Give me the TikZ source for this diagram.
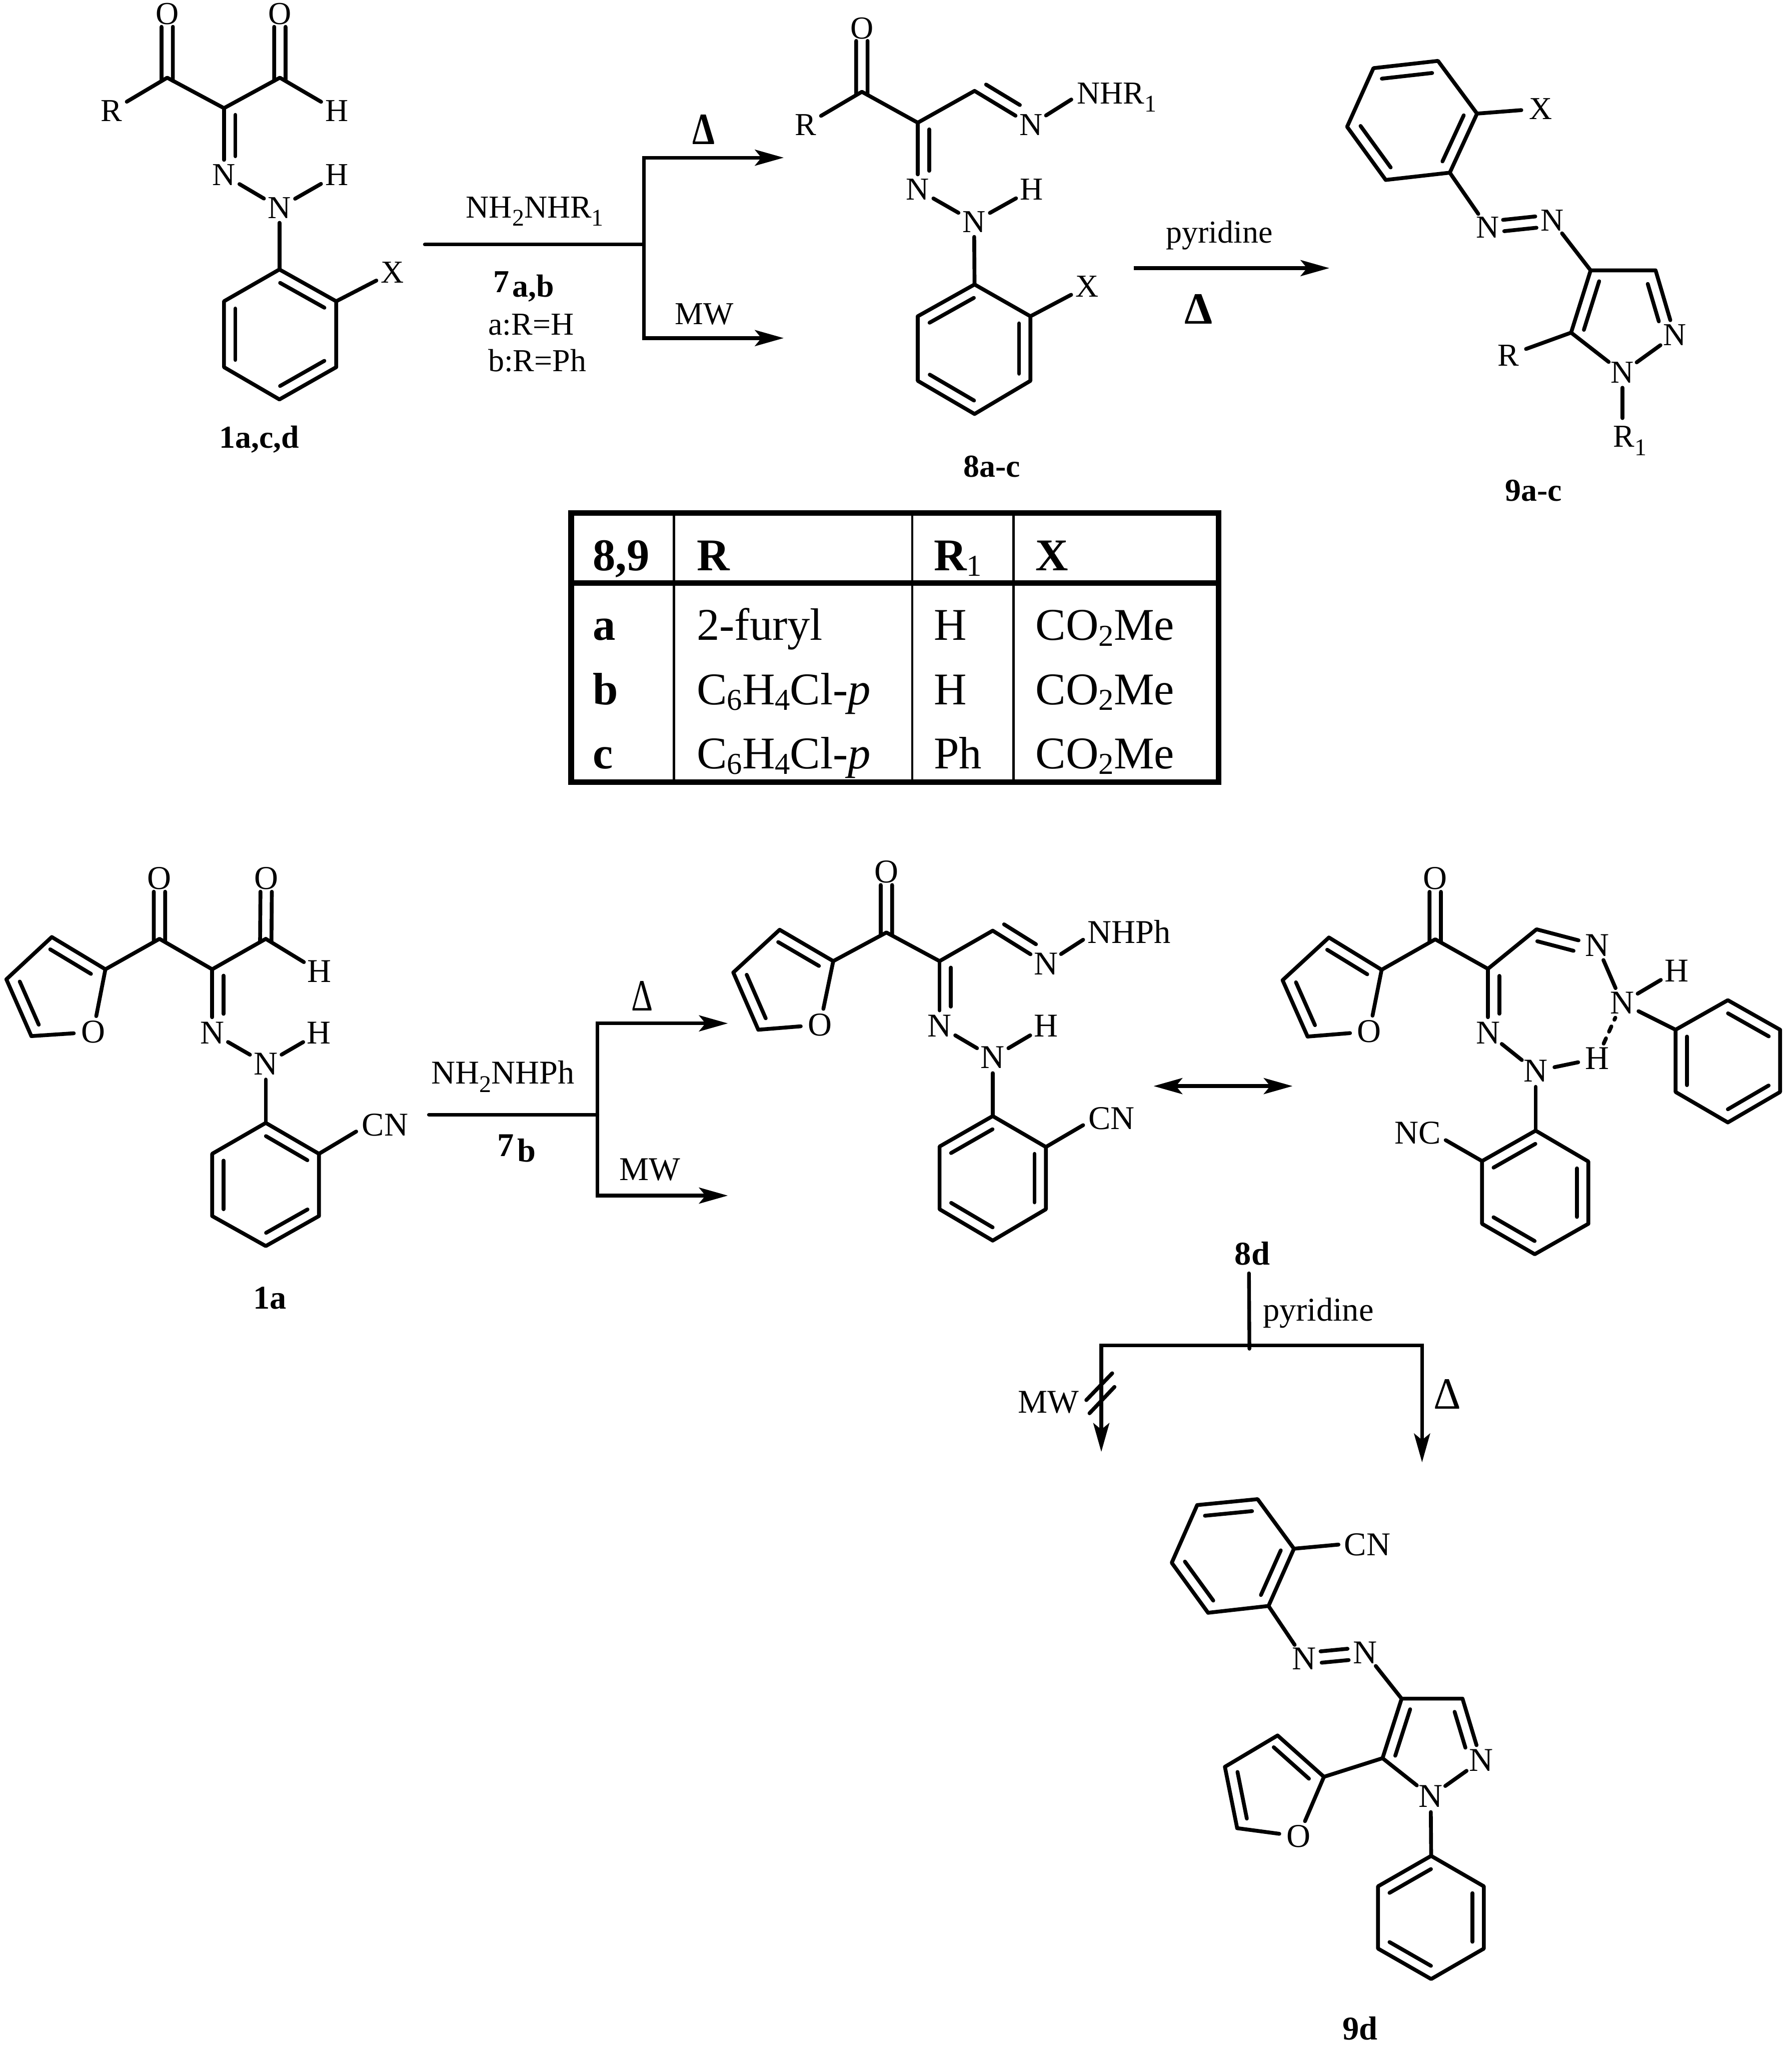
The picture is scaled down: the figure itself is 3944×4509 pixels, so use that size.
\documentclass[tikz,border=0pt]{standalone}
\usepackage{fontspec}
\setmainfont{Liberation Serif}
\usetikzlibrary{calc,arrows.meta,shapes.geometric}
% font in force for atoms and scheme texts
\def\curfont{\fontsize{20}{24}\selectfont}
\newcommand{\tabfont}{\fontsize{28.4}{32}\selectfont}
\newcommand{\sbs}[1]{\raisebox{-.26em}{\fontsize{15}{15}\selectfont #1}}
\newcommand{\tsb}[1]{\raisebox{-.13em}{\fontsize{19}{19}\selectfont #1}}
\tikzset{
  bond/.style={draw,line width=2.4pt,line cap=round,line join=round},
  arw/.style={draw,line width=2.3pt,line join=miter,-{Stealth[length=18pt,width=10pt,inset=4pt]}},
  arwb/.style={draw,line width=2.3pt,{Stealth[length=18pt,width=10pt,inset=4pt]}-{Stealth[length=18pt,width=10pt,inset=4pt]}},
  stem/.style={draw,line width=2.3pt,line cap=round,line join=miter},
  atm/.style={shape=ellipse,inner sep=0pt,minimum width=.84cm,minimum height=.64cm,font=\curfont},
  txt/.style={inner sep=0pt,anchor=base west,font=\curfont},
  capt/.style={inner sep=0pt,anchor=base west,font=\curfont\bfseries},
  tabr/.style={inner sep=0pt,anchor=base west,font=\tabfont},
  tabb/.style={inner sep=0pt,anchor=base west,font=\tabfont\bfseries},
  delt/.style={inner sep=0pt,font=\fontsize{28}{30}\selectfont},
  deltb/.style={inner sep=0pt,font=\fontsize{28}{30}\selectfont\bfseries},
}
\newcommand{\bd}[2]{\draw[bond] (#1) -- (#2);}
% inner line of a double bond, to the right of the way a->b
\newcommand{\innf}[4]{\draw[bond] ($(#1)!#3!(#2)!.25cm!-90:(#2)$) -- ($(#1)!#4!(#2)!.25cm!-90:(#2)$);}
\newcommand{\inn}[2]{\innf{#1}{#2}{.11}{.89}}
% two equal lines either side of the axis a-b
\newcommand{\dblf}[4]{\draw[bond] ($(#1)!#3!(#2)!.125cm!90:(#2)$) -- ($(#1)!#4!(#2)!.125cm!90:(#2)$);
  \draw[bond] ($(#1)!#3!(#2)!.125cm!-90:(#2)$) -- ($(#1)!#4!(#2)!.125cm!-90:(#2)$);}
% six-membered ring, corners named clockwise
\newcommand{\ringsix}[6]{\draw[bond] (#1)--(#2)--(#3)--(#4)--(#5)--(#6)--cycle;}
\newcommand{\furan}[5]{\draw[bond] (#1)--(#2)--(#3)--(#4); \bd{#4}{#5} \bd{#1}{#5}
  \innf{#2}{#1}{.08}{.84} \innf{#4}{#3}{.12}{.88}}
\begin{document}
\begin{tikzpicture}[x=.01cm,y=-.01cm]
\fill[white] (0,0) rectangle (3944,4509);
\path[use as bounding box] (0,0) rectangle (3944,4509);

%% ---------- 1a,c,d ----------
\coordinate (Ac1) at (368,171); \coordinate (Ac2) at (616,171); \coordinate (Ac3) at (493,238);
\node[atm] (Ao1) at (368,31) {O}; \node[atm] (Ao2) at (616,31) {O};
\node[atm] (Ar) at (245,244) {R}; \node[atm] (Ah1) at (741,244) {H};
\node[atm] (An1) at (493,385) {N}; \node[atm] (Ah2) at (741,385) {H};
\node[atm] (An2) at (615,457) {N}; \node[atm] (Ax) at (864,599) {X};
\coordinate (Ara) at (615,593); \coordinate (Arb) at (740,663); \coordinate (Arc) at (740,808);
\coordinate (Ard) at (615,879); \coordinate (Are) at (493,808); \coordinate (Arf) at (493,663);
\draw[bond] (Ar) -- (Ac1) -- (Ac3) -- (Ac2) -- (Ah1);
\dblf{Ac1}{Ao1}{-.05}{.8} \dblf{Ac2}{Ao2}{-.05}{.8}
\bd{Ac3}{An1} \innf{An1}{Ac3}{.28}{.9}
\bd{An1}{An2} \bd{An2}{Ah2} \bd{An2}{Ara}
\ringsix{Ara}{Arb}{Arc}{Ard}{Are}{Arf} \inn{Ara}{Arb} \inn{Arc}{Ard} \inn{Are}{Arf}
\bd{Arb}{Ax}
\node[capt] (Acap) at (482,986) {1a,c,d};

%% ---------- reagent and branch, top ----------
\node[txt] (Rg1) at (1025,479) {NH\sbs{2}NHR\sbs{1}};
\node[capt] (Rg2) at (1085,643) {7};
\node[capt] (Rg3) at (1127,653) {a,b};
\node[txt] (Rg4) at (1074,737) {a:R=H};
\node[txt] (Rg5) at (1074,817) {b:R=Ph};
\coordinate (La) at (935,538); \coordinate (Lm) at (1417,538);
\coordinate (Lt) at (1417,347); \coordinate (Lb) at (1417,744);
\coordinate (Ta) at (1725,347); \coordinate (Tb) at (1725,744);
\draw[stem] (La) -- (Lm);
\draw[arw] (Lm) -- (Lt) -- (Ta);
\draw[arw] (Lm) -- (Lb) -- (Tb);
\node[deltb] (De1) at (1549,285) {\scalebox{.8}[1]{Δ}};
\node[txt] (Mw1) at (1485,714) {MW};

%% ---------- 8a-c ----------
\coordinate (Bc1) at (1897,202); \coordinate (Bc2) at (2020,270); \coordinate (Bc3) at (2145,200);
\node[atm] (Bo) at (1897,62) {O}; \node[atm] (Br) at (1773,275) {R};
\node[atm] (Bn3) at (2269,275) {N}; \node[atm] (Bn1) at (2020,417) {N};
\node[atm] (Bh) at (2271,417) {H}; \node[atm] (Bn2) at (2144,488) {N};
\node[atm] (Bx) at (2393,630) {X};
\coordinate (Bra) at (2145,626); \coordinate (Brb) at (2268,696); \coordinate (Brc) at (2268,838);
\coordinate (Brd) at (2145,911); \coordinate (Bre) at (2020,838); \coordinate (Brf) at (2020,696);
\draw[bond] (Br) -- (Bc1) -- (Bc2) -- (Bc3) -- (Bn3);
\dblf{Bc1}{Bo}{-.05}{.8}
\innf{Bn3}{Bc3}{.3}{.9}
\node[txt] (Bnh) at (2370,228) {NHR\sbs{1}};
\coordinate (Bne) at (2358,219); \bd{Bn3}{Bne}
\bd{Bc2}{Bn1} \innf{Bn1}{Bc2}{.28}{.9}
\bd{Bn1}{Bn2} \bd{Bn2}{Bh} \bd{Bn2}{Bra}
\ringsix{Bra}{Brb}{Brc}{Brd}{Bre}{Brf} \inn{Brf}{Bra} \inn{Brb}{Brc} \inn{Brd}{Bre}
\bd{Brb}{Bx}
\node[capt] (Bcap) at (2120,1050) {8a-c};

%% ---------- pyridine arrow ----------
\coordinate (Pa) at (2495,590); \coordinate (Pb) at (2926,590);
\draw[arw] (Pa) -- (Pb);
\node[txt] (Py1) at (2566,535) {pyridine};
\node[deltb] (De2) at (2638,680) {Δ};

%% ---------- 9a-c ----------
\coordinate (Cra) at (3023,150); \coordinate (Crb) at (3165,134); \coordinate (Crc) at (3251,250);
\coordinate (Crd) at (3191,380); \coordinate (Cre) at (3050,396); \coordinate (Crf) at (2965,279);
\ringsix{Cra}{Crb}{Crc}{Crd}{Cre}{Crf} \inn{Cra}{Crb} \inn{Crc}{Crd} \inn{Cre}{Crf}
\node[atm] (Cx) at (3391,239) {X}; \bd{Crc}{Cx}
\node[atm] (Cn1) at (3274,500) {N}; \node[atm] (Cn2) at (3416,485) {N};
\bd{Crd}{Cn1} \dblf{Cn1}{Cn2}{.25}{.75}
\coordinate (Cc4) at (3501,595); \coordinate (Cc3) at (3644,595); \coordinate (Cc5) at (3458,732);
\node[atm] (Cn4) at (3686,737) {N}; \node[atm] (Cn5) at (3571,820) {N};
\node[atm] (Cr) at (3320,782) {R};
\bd{Cn2}{Cc4}
\draw[bond] (Cn4) -- (Cc3) -- (Cc4) -- (Cc5) -- (Cn5) -- (Cn4);
\innf{Cc3}{Cn4}{.16}{.74} \innf{Cc5}{Cc4}{.1}{.88}
\bd{Cc5}{Cr}
\coordinate (Cre1) at (3571,920); \bd{Cn5}{Cre1}
\node[txt] (Cr1) at (3550,984) {R\sbs{1}};
\node[capt] (Ccap) at (3312,1102) {9a-c};

%% ---------- table ----------
\draw[line width=3.6pt,line join=miter] (1257,1129) rectangle (2682,1721);
\draw[line width=3.5pt] (1257,1283) -- (2682,1283);
\draw[line width=1.5pt] (1483,1129) -- (1483,1721);
\draw[line width=1.5pt] (2008,1129) -- (2008,1721);
\draw[line width=1.5pt] (2231,1129) -- (2231,1721);
\node[tabb] (T00) at (1304,1255) {8,9};
\node[tabb] (T01) at (1533,1255) {R};
\node[tabb] (T02) at (2055,1255) {R\tsb{\mdseries 1}};
\node[tabb] (T03) at (2279,1255) {X};
\node[tabb] (T10) at (1304,1409) {a};
\node[tabr] (T11) at (1533,1409) {2-furyl};
\node[tabr] (T12) at (2055,1409) {H};
\node[tabr] (T13) at (2279,1409) {CO\tsb{2}Me};
\node[tabb] (T20) at (1304,1550) {b};
\node[tabr] (T21) at (1533,1550) {C\tsb{6}H\tsb{4}Cl-\textit{p}};
\node[tabr] (T22) at (2055,1550) {H};
\node[tabr] (T23) at (2279,1550) {CO\tsb{2}Me};
\node[tabb] (T30) at (1304,1691) {c};
\node[tabr] (T31) at (1533,1691) {C\tsb{6}H\tsb{4}Cl-\textit{p}};
\node[tabr] (T32) at (2055,1691) {Ph};
\node[tabr] (T33) at (2279,1691) {CO\tsb{2}Me};

\def\curfont{\fontsize{20.8}{24}\selectfont}
%% ---------- 1a ----------
\coordinate (Dc2f) at (232,2133); \coordinate (Dc3f) at (114,2062);
\coordinate (Dc4f) at (14,2155); \coordinate (Dc5f) at (69,2280);
\node[atm] (Dof) at (205,2271) {O};
\furan{Dc2f}{Dc3f}{Dc4f}{Dc5f}{Dof}
\coordinate (Dc1) at (351,2066); \coordinate (Dc2) at (467,2133); \coordinate (Dc3) at (585,2066);
\node[atm] (Do1) at (351,1933) {O}; \node[atm] (Do2) at (586,1933) {O};
\node[atm] (Dh1) at (703,2138) {H}; \node[atm] (Dn1) at (467,2273) {N};
\node[atm] (Dh2) at (702,2273) {H}; \node[atm] (Dn2) at (585,2341) {N};
\coordinate (Dra) at (585,2471); \coordinate (Drb) at (702,2539); \coordinate (Drc) at (702,2676);
\coordinate (Drd) at (585,2742); \coordinate (Dre) at (467,2676); \coordinate (Drf) at (467,2539);
\draw[bond] (Dc2f) -- (Dc1) -- (Dc2) -- (Dc3) -- (Dh1);
\dblf{Dc1}{Do1}{-.05}{.78} \dblf{Dc3}{Do2}{-.05}{.78}
\bd{Dc2}{Dn1} \innf{Dn1}{Dc2}{.3}{.9}
\bd{Dn1}{Dn2} \bd{Dn2}{Dh2} \bd{Dn2}{Dra}
\ringsix{Dra}{Drb}{Drc}{Drd}{Dre}{Drf} \inn{Dra}{Drb} \inn{Drc}{Drd} \inn{Dre}{Drf}
\node[txt] (Dcn) at (796,2499) {CN}; \coordinate (Dce) at (784,2490); \bd{Drb}{Dce}
\node[capt] (Dcap) at (557,2880) {1a};

%% ---------- reagent and branch, bottom ----------
\node[txt] (Rh1) at (949,2385) {NH\sbs{2}NHPh};
\node[capt] (Rh2) at (1094,2544) {7};
\node[capt] (Rh3) at (1138,2557) {b};
\coordinate (Ma) at (944,2453); \coordinate (Mm) at (1315,2453);
\coordinate (Mt) at (1315,2252); \coordinate (Mb) at (1315,2631);
\coordinate (Na) at (1602,2252); \coordinate (Nb) at (1602,2631);
\draw[stem] (Ma) -- (Mm);
\draw[arw] (Mm) -- (Mt) -- (Na);
\draw[arw] (Mm) -- (Mb) -- (Nb);
\node[delt] (De3) at (1413,2192) {\scalebox{.75}[1]{Δ}};
\node[txt] (Mw2) at (1363,2597) {MW};

%% ---------- 8d, open form ----------
\coordinate (Ec2f) at (1834,2115); \coordinate (Ec3f) at (1716,2046);
\coordinate (Ec4f) at (1614,2140); \coordinate (Ec5f) at (1669,2266);
\node[atm] (Eof) at (1805,2255) {O};
\furan{Ec2f}{Ec3f}{Ec4f}{Ec5f}{Eof}
\coordinate (Ec1) at (1951,2052); \coordinate (Ec2) at (2068,2115); \coordinate (Ec3) at (2185,2048);
\node[atm] (Eo) at (1951,1918) {O}; \node[atm] (En3) at (2302,2121) {N};
\node[atm] (En1) at (2068,2258) {N}; \node[atm] (Eh) at (2302,2258) {H};
\node[atm] (En2) at (2185,2327) {N};
\coordinate (Era) at (2185,2456); \coordinate (Erb) at (2302,2524); \coordinate (Erc) at (2302,2661);
\coordinate (Erd) at (2185,2730); \coordinate (Ere) at (2068,2661); \coordinate (Erf) at (2068,2523);
\draw[bond] (Ec2f) -- (Ec1) -- (Ec2) -- (Ec3) -- (En3);
\dblf{Ec1}{Eo}{-.05}{.78}
\innf{En3}{Ec3}{.3}{.9}
\node[txt] (Enh) at (2393,2076) {NHPh}; \coordinate (Ene) at (2384,2068); \bd{En3}{Ene}
\bd{Ec2}{En1} \innf{En1}{Ec2}{.3}{.9}
\bd{En1}{En2} \bd{En2}{Eh} \bd{En2}{Era}
\ringsix{Era}{Erb}{Erc}{Erd}{Ere}{Erf} \inn{Erf}{Era} \inn{Erb}{Erc} \inn{Erd}{Ere}
\node[txt] (Ecn) at (2395,2485) {CN}; \coordinate (Ece) at (2384,2476); \bd{Erb}{Ece}

%% ---------- double arrow ----------
\coordinate (Qa) at (2539,2390); \coordinate (Qb) at (2845,2390);
\draw[arwb] (Qa) -- (Qb);

%% ---------- 8d, chelated form ----------
\coordinate (Fc2f) at (3041,2134); \coordinate (Fc3f) at (2925,2063);
\coordinate (Fc4f) at (2823,2157); \coordinate (Fc5f) at (2878,2281);
\node[atm] (Fof) at (3014,2270) {O};
\furan{Fc2f}{Fc3f}{Fc4f}{Fc5f}{Fof}
\coordinate (Fc1) at (3159,2067); \coordinate (Fc2) at (3275,2132); \coordinate (Fc3) at (3382,2045);
\node[atm] (Fo) at (3159,1933) {O}; \node[atm] (Fn3) at (3515,2080) {N};
\node[atm] (Fn4) at (3570,2207) {N}; \node[atm] (Fh1) at (3690,2136) {H};
\node[atm] (Fn1) at (3275,2273) {N}; \node[atm] (Fn2) at (3380,2357) {N};
\node[atm] (Fh2) at (3515,2329) {H};
\draw[bond] (Fc2f) -- (Fc1) -- (Fc2) -- (Fc3) -- (Fn3);
\dblf{Fc1}{Fo}{-.05}{.78}
\innf{Fc3}{Fn3}{.06}{.66}
\bd{Fn3}{Fn4} \bd{Fn4}{Fh1}
\bd{Fc2}{Fn1} \innf{Fn1}{Fc2}{.3}{.89}
\bd{Fn1}{Fn2} \bd{Fn2}{Fh2}
\draw[bond,dash pattern=on 3.6pt off 4.6pt] (Fh2) -- (Fn4);
\coordinate (Fpa) at (3688,2266); \coordinate (Fpb) at (3803,2201); \coordinate (Fpc) at (3918,2266);
\coordinate (Fpd) at (3918,2403); \coordinate (Fpe) at (3803,2470); \coordinate (Fpf) at (3688,2403);
\bd{Fn4}{Fpa}
\ringsix{Fpa}{Fpb}{Fpc}{Fpd}{Fpe}{Fpf} \inn{Fpb}{Fpc} \inn{Fpd}{Fpe} \inn{Fpf}{Fpa}
\coordinate (Fra) at (3380,2488); \coordinate (Frb) at (3496,2556); \coordinate (Frc) at (3496,2693);
\coordinate (Frd) at (3378,2760); \coordinate (Fre) at (3262,2693); \coordinate (Frf) at (3262,2555);
\bd{Fn2}{Fra}
\ringsix{Fra}{Frb}{Frc}{Frd}{Fre}{Frf} \inn{Frf}{Fra} \inn{Frb}{Frc} \inn{Frd}{Fre}
\node[txt] (Fnc) at (3069,2517) {NC}; \coordinate (Fce) at (3182,2509); \bd{Frf}{Fce}

%% ---------- 8d caption and its branch ----------
\node[capt] (Fcap) at (2717,2783) {8d};
\node[txt] (Py2) at (2779,2907) {pyridine};
\coordinate (Sa) at (2749,2802); \coordinate (Sb) at (2750,2968); \coordinate (Sm) at (2750,2961);
\coordinate (Sl) at (2424,2961); \coordinate (Sr) at (3130,2961);
\coordinate (Ul) at (2424,3195); \coordinate (Ur) at (3130,3218);
\draw[stem] (Sa) -- (Sb);
\draw[arw] (Sm) -- (Sl) -- (Ul);
\draw[arw] (Sm) -- (Sr) -- (Ur);
\coordinate (Xa1) at (2448,3022); \coordinate (Xa2) at (2391,3081);
\coordinate (Xb1) at (2453,3052); \coordinate (Xb2) at (2398,3110);
\bd{Xa1}{Xa2} \bd{Xb1}{Xb2}
\node[txt] (Mw3) at (2240,3109) {MW};
\node[delt] (De4) at (3186,3068) {\scalebox{.95}[1]{Δ}};

%% ---------- 9d ----------
\coordinate (Gra) at (2635,3312); \coordinate (Grb) at (2768,3299); \coordinate (Grc) at (2848,3408);
\coordinate (Grd) at (2792,3534); \coordinate (Gre) at (2659,3549); \coordinate (Grf) at (2579,3439);
\ringsix{Gra}{Grb}{Grc}{Grd}{Gre}{Grf} \inn{Gra}{Grb} \inn{Grc}{Grd} \inn{Gre}{Grf}
\node[txt] (Gcn) at (2958,3423) {CN}; \coordinate (Gce) at (2946,3399); \bd{Grc}{Gce}
\node[atm] (Gn1) at (2870,3650) {N}; \node[atm] (Gn2) at (3005,3637) {N};
\bd{Grd}{Gn1} \dblf{Gn1}{Gn2}{.28}{.72}
\coordinate (Gc4) at (3085,3738); \coordinate (Gc3) at (3219,3738); \coordinate (Gc5) at (3043,3869);
\node[atm] (Gn4) at (3260,3874) {N}; \node[atm] (Gn5) at (3149,3953) {N};
\bd{Gn2}{Gc4}
\draw[bond] (Gn4) -- (Gc3) -- (Gc4) -- (Gc5) -- (Gn5) -- (Gn4);
\innf{Gc3}{Gn4}{.16}{.74} \innf{Gc5}{Gc4}{.1}{.88}
\coordinate (Gc2f) at (2914,3910); \coordinate (Gc3f) at (2812,3819);
\coordinate (Gc4f) at (2696,3888); \coordinate (Gc5f) at (2723,4023);
\node[atm] (Gof) at (2858,4041) {O};
\furan{Gc2f}{Gc3f}{Gc4f}{Gc5f}{Gof}
\bd{Gc5}{Gc2f}
\coordinate (Gpa) at (3150,4084); \coordinate (Gpb) at (3266,4151); \coordinate (Gpc) at (3266,4288);
\coordinate (Gpd) at (3150,4355); \coordinate (Gpe) at (3033,4288); \coordinate (Gpf) at (3033,4151);
\bd{Gn5}{Gpa}
\ringsix{Gpa}{Gpb}{Gpc}{Gpd}{Gpe}{Gpf} \inn{Gpf}{Gpa} \inn{Gpb}{Gpc} \inn{Gpd}{Gpe}
\node[capt] (Gcap) at (2954,4489) {9d};
\end{tikzpicture}
\end{document}
